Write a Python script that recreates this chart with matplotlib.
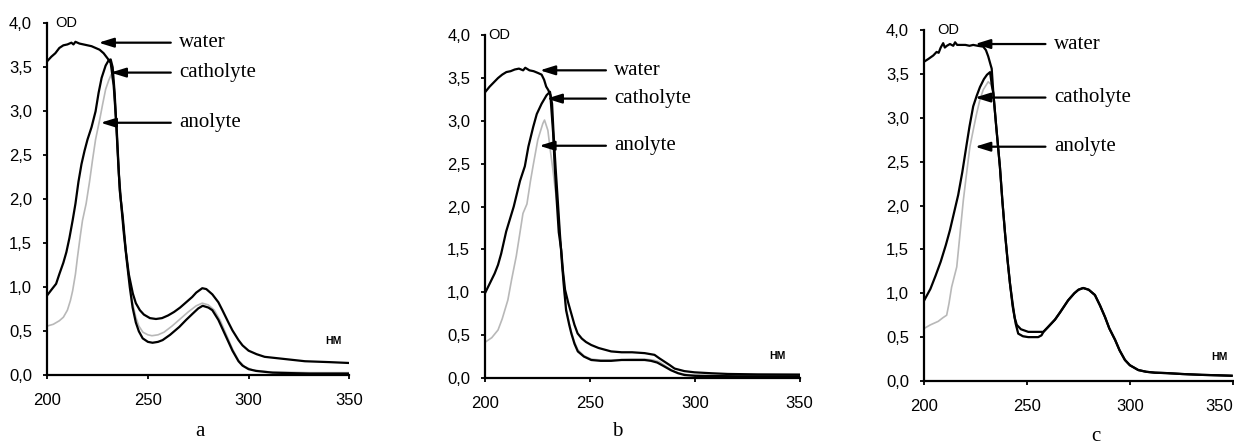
import matplotlib
matplotlib.use("Agg")
import matplotlib.pyplot as plt
from matplotlib.ticker import FuncFormatter

# --- panel a ---
a_water_nm = [200, 202, 204, 206, 208, 210, 212, 213, 214, 216, 218, 220, 222, 224, 226, 228, 230, 231.5,
              233, 234.5, 236, 237.5, 239, 240.5, 242.5, 244, 246, 248, 251, 254, 257, 260, 263, 266, 269,
              272, 274, 277, 279, 282, 285, 287, 290, 292, 295, 297, 300, 304, 308, 312, 320, 328, 340, 350]
a_water_od = [3.57, 3.62, 3.66, 3.72, 3.75, 3.76, 3.78, 3.76, 3.79, 3.77, 3.76, 3.75, 3.74, 3.72, 3.70, 3.66, 3.60, 3.55,
              3.30, 2.80, 2.10, 1.80, 1.42, 1.15, 0.93, 0.82, 0.74, 0.69, 0.65, 0.64, 0.65, 0.68, 0.72, 0.77, 0.83,
              0.89, 0.94, 0.99, 0.98, 0.92, 0.83, 0.74, 0.60, 0.51, 0.40, 0.34, 0.28, 0.24, 0.21, 0.20, 0.18, 0.16, 0.15, 0.14]

a_cath_nm = [200, 202, 204.4, 206, 208, 209.5, 211, 212.6, 214, 215.5, 217, 218.5, 220, 222, 224, 225.5, 227, 229,
             230.5, 231.5, 232.5, 233.5, 234.5, 235.5, 236.5, 238, 239.5, 241, 242.4, 244, 245.5, 247.4, 250, 252.3,
             255, 257.3, 261, 265.6, 269, 272.2, 275, 277.2, 280, 282, 285, 287, 290, 292, 295, 297, 300, 303.7,
             312, 330, 350]
a_cath_od = [0.91, 0.97, 1.04, 1.15, 1.28, 1.40, 1.56, 1.76, 1.95, 2.20, 2.40, 2.55, 2.68, 2.82, 3.00, 3.21, 3.38, 3.52,
             3.58, 3.59, 3.50, 3.20, 2.75, 2.30, 2.00, 1.62, 1.30, 1.00, 0.77, 0.60, 0.50, 0.42, 0.38, 0.37,
             0.38, 0.40, 0.46, 0.55, 0.63, 0.70, 0.76, 0.79, 0.77, 0.74, 0.63, 0.53, 0.38, 0.28, 0.16, 0.11, 0.07, 0.05,
             0.03, 0.02, 0.02]

a_anol_nm = [200, 203, 206, 208, 210, 211.5, 212.6, 214, 215, 216.5, 217.5, 219.3, 221, 222.5, 224, 226, 227.5, 229,
             230.5, 231.8, 232.8, 234, 235, 236.5, 238, 239.5, 241, 242.4, 244, 245.5, 247.5, 250, 252, 255, 258,
             262, 266, 270, 274, 277, 280, 283, 286, 289, 292, 295, 298, 302, 310, 330, 350]
a_anol_od = [0.56, 0.58, 0.62, 0.66, 0.74, 0.85, 0.96, 1.15, 1.34, 1.60, 1.76, 1.95, 2.20, 2.45, 2.68, 2.90, 3.08, 3.25,
             3.35, 3.42, 3.30, 2.90, 2.50, 2.05, 1.65, 1.33, 1.05, 0.82, 0.66, 0.56, 0.49, 0.46, 0.45, 0.46, 0.49,
             0.56, 0.64, 0.72, 0.79, 0.82, 0.80, 0.74, 0.62, 0.46, 0.30, 0.17, 0.10, 0.06, 0.04, 0.03, 0.03]

# --- panel b ---
b_water_nm = [200, 202, 204, 206, 208, 210, 212, 214, 216, 218, 219, 221, 223, 225, 226.8, 228, 229, 230, 231,
              232.3, 233, 234, 235, 236.2, 237, 238, 239.5, 241, 242.5, 244, 246, 248, 250.5, 254, 257, 260, 265,
              270, 276, 280.7, 283, 285.5, 288, 290.3, 295, 299.8, 308, 315.7, 330, 350]
b_water_od = [3.34, 3.40, 3.45, 3.50, 3.54, 3.57, 3.58, 3.60, 3.61, 3.59, 3.62, 3.59, 3.58, 3.56, 3.54, 3.48, 3.40, 3.36, 3.30,
              2.86, 2.50, 2.08, 1.70, 1.49, 1.25, 1.03, 0.88, 0.75, 0.62, 0.52, 0.46, 0.42, 0.385, 0.35, 0.33, 0.31, 0.30,
              0.30, 0.29, 0.27, 0.23, 0.19, 0.15, 0.11, 0.08, 0.066, 0.055, 0.047, 0.042, 0.04]

b_cath_nm = [200, 202, 204.4, 206, 207.5, 209.9, 213.5, 216.5, 218.8, 220.5, 222.8, 224.5, 226.8, 229.2, 230.8,
             231.8, 232.5, 233.5, 234.5, 235.5, 236.5, 237.5, 238.5, 240, 241, 242.5, 244.1, 247, 250.5, 255, 260,
             265, 270, 276, 279, 282, 285, 288.6, 292, 295, 300, 320, 350]
b_cath_od = [1.00, 1.10, 1.22, 1.32, 1.45, 1.71, 2.00, 2.30, 2.47, 2.70, 2.93, 3.08, 3.20, 3.30, 3.34,
             3.20, 2.86, 2.45, 2.08, 1.70, 1.35, 1.05, 0.79, 0.62, 0.52, 0.40, 0.31, 0.25, 0.21, 0.20, 0.20,
             0.21, 0.21, 0.21, 0.20, 0.18, 0.14, 0.09, 0.055, 0.035, 0.025, 0.02, 0.02]

b_anol_nm = [200, 203, 206, 208, 210.7, 212.5, 214.7, 216.5, 217.9, 219.8, 221.5, 222.7, 225, 227.4, 228.2, 229.8,
             231, 232.2, 233.3, 234.5, 235.5, 236.5, 237.5, 238.5, 240, 241, 242.5, 244.1, 247, 250.5, 255, 260,
             270, 276, 280, 283, 286, 289, 292, 296, 305, 350]
b_anol_od = [0.42, 0.47, 0.56, 0.69, 0.91, 1.15, 1.42, 1.70, 1.92, 2.03, 2.30, 2.47, 2.78, 2.97, 3.01, 2.89,
             2.65, 2.43, 2.20, 2.00, 1.70, 1.35, 1.05, 0.82, 0.64, 0.54, 0.42, 0.33, 0.26, 0.22, 0.21, 0.21,
             0.22, 0.22, 0.21, 0.19, 0.14, 0.09, 0.06, 0.04, 0.03, 0.03]

# --- panel c ---
c_water_nm = [200, 202, 204.4, 206, 207, 208, 209.2, 210, 211, 212.5, 214.1, 215, 216, 218, 220, 222, 223.8, 226,
              228.7, 230, 231.1, 232.3, 232.8, 233.6, 235, 236.8, 238, 239.3, 240.5, 241.7, 243, 244, 245, 247,
              250.6, 255.4, 257.9, 260, 263.6, 266, 270, 273, 275, 277.3, 280, 283, 285.5, 287.9, 290, 292.8, 295,
              297.6, 300, 304.1, 308, 312.2, 318, 325.2, 335, 343, 349.5]
c_water_od = [3.64, 3.67, 3.71, 3.75, 3.74, 3.80, 3.85, 3.80, 3.82, 3.84, 3.82, 3.86, 3.83, 3.83, 3.83, 3.82, 3.83, 3.82,
              3.81, 3.77, 3.70, 3.60, 3.56, 3.28, 2.90, 2.44, 2.05, 1.68, 1.38, 1.11, 0.88, 0.72, 0.64, 0.59,
              0.56, 0.56, 0.56, 0.61, 0.70, 0.78, 0.92, 1.00, 1.04, 1.06, 1.04, 0.98, 0.86, 0.73, 0.60, 0.47, 0.35,
              0.24, 0.18, 0.125, 0.105, 0.095, 0.09, 0.08, 0.07, 0.065, 0.06]

c_cath_nm = [200, 203, 205.5, 208, 210.5, 212.5, 214.5, 216.5, 218.5, 220.5, 222, 223.8, 225.5, 227.1, 229, 230.5,
             232, 233, 233.6, 235, 236.8, 238, 239.3, 240.5, 241.7, 243, 244.5, 245.7, 248, 250.6, 253, 255.4, 257,
             258, 260, 263.6, 266, 270, 273, 275, 277.3, 280, 283, 285.5, 287.9, 290, 292.8, 295, 297.6, 300, 304.1,
             308, 312.2, 318, 325.2, 335, 343, 349.5]
c_cath_od = [0.92, 1.05, 1.20, 1.36, 1.55, 1.72, 1.92, 2.12, 2.38, 2.68, 2.90, 3.13, 3.25, 3.35, 3.44, 3.49,
             3.52, 3.35, 3.28, 2.90, 2.44, 2.05, 1.68, 1.38, 1.11, 0.85, 0.65, 0.54, 0.51, 0.50, 0.50, 0.50, 0.52,
             0.56, 0.61, 0.70, 0.78, 0.92, 1.00, 1.04, 1.06, 1.04, 0.98, 0.86, 0.73, 0.60, 0.47, 0.35, 0.24, 0.18, 0.125,
             0.105, 0.095, 0.09, 0.08, 0.07, 0.065, 0.06]

c_anol_nm = [200, 203, 206.8, 209, 210.9, 212, 213.3, 215.8, 217.4, 219, 220.5, 222.2, 224, 225.5, 227, 228.7,
             231.1, 232.5, 233.6, 235, 236.8, 238, 239.3, 240.5, 241.7, 243, 244.5, 245.7, 248, 250.6, 253, 255.4,
             257, 258]
c_anol_od = [0.60, 0.64, 0.68, 0.72, 0.75, 0.88, 1.07, 1.30, 1.68, 2.06, 2.35, 2.67, 2.88, 3.05, 3.20, 3.32,
             3.41, 3.38, 3.28, 2.90, 2.44, 2.05, 1.68, 1.38, 1.11, 0.85, 0.65, 0.54, 0.51, 0.50, 0.50, 0.50,
             0.52, 0.56]

labels = ["water", "catholyte", "anolyte"]
panel_letters = ["a", "b", "c"]
yticks = [0, 0.5, 1.0, 1.5, 2.0, 2.5, 3.0, 3.5, 4.0]
xticks = [200, 250, 300, 350]

panels = [
    dict(curves=[(a_water_nm, a_water_od), (a_cath_nm, a_cath_od), (a_anol_nm, a_anol_od)],
         rect=[0.0383, 0.1566, 0.2447, 0.791],
         heads=[(225.5, 3.78), (231.5, 3.44), (226.5, 2.87)], text_x=265.5,
         od_x=203.8, hm=(342.4, 0.39), letter=(0.162, 0.03)),
    dict(curves=[(b_water_nm, b_water_od), (b_cath_nm, b_cath_od), (b_anol_nm, b_anol_od)],
         rect=[0.3934, 0.1506, 0.2546, 0.7703],
         heads=[(226.0, 3.59), (229.2, 3.26), (225.7, 2.71)], text_x=261.5,
         od_x=201.2, hm=(339.3, 0.26), letter=(0.5, 0.03)),
    dict(curves=[(c_water_nm, c_water_od), (c_cath_nm, c_cath_od), (c_anol_nm, c_anol_od)],
         rect=[0.749, 0.1438, 0.2499, 0.7888],
         heads=[(224.7, 3.84), (224.7, 3.23), (224.7, 2.67)], text_x=263.0,
         od_x=206.1, hm=(343.6, 0.27), letter=(0.888, 0.02)),
]

fig = plt.figure(figsize=(12.34, 4.45), dpi=100)
comma = FuncFormatter(lambda v, p: f"{v:.1f}".replace(".", ","))

axes = []
for p in panels:
    ax = fig.add_axes(p["rect"])
    axes.append(ax)
    colors = ["black", "black", "#b8b8b8"]
    widths = [1.6, 1.6, 1.2]
    order = [2, 0, 1]
    for i in order:
        x, y = p["curves"][i]
        ax.plot(x, y, color=colors[i], lw=widths[i], zorder=3 if i < 2 else 2)
    ax.set_xlim(200, 350)
    ax.set_ylim(0, 4)
    ax.set_xticks(xticks)
    ax.set_yticks(yticks)
    ax.yaxis.set_major_formatter(comma)
    for s in ["top", "right"]:
        ax.spines[s].set_visible(False)
    for s in ["left", "bottom"]:
        ax.spines[s].set_linewidth(1.6)
    ax.tick_params(axis="x", direction="out", length=3, width=1.3, pad=10,
                   labelsize=12, labelfontfamily="Liberation Sans")
    ax.tick_params(axis="y", direction="out", length=3, width=1.3, pad=8,
                   labelsize=12, labelfontfamily="Liberation Sans")

    ax.text(p["od_x"], 4.0, "OD", ha="left", va="center", fontsize=10.5,
            family="Liberation Sans", clip_on=False)
    ax.text(p["hm"][0], p["hm"][1], "HM", ha="center", va="center", fontsize=7.5,
            fontweight="bold", family="Liberation Sans")

    for lab, (hx, hy) in zip(labels, p["heads"]):
        ax.annotate(lab, xy=(hx, hy), xytext=(p["text_x"], hy), ha="left", va="center",
                    fontsize=15, family="Liberation Serif", annotation_clip=False,
                    arrowprops=dict(arrowstyle="-|>,head_length=0.9,head_width=0.28",
                                    color="black", lw=1.6, shrinkA=4, shrinkB=0,
                                    mutation_scale=10))

# last tick label of panel c sits at the figure edge: keep it inside
axes[2].get_xticklabels()[-1].set_horizontalalignment("right")

for letter, p in zip(panel_letters, panels):
    fig.text(p["letter"][0], p["letter"][1], letter, ha="center", va="center",
             fontsize=15, family="Liberation Serif")

fig.savefig("out.png", dpi=100)
